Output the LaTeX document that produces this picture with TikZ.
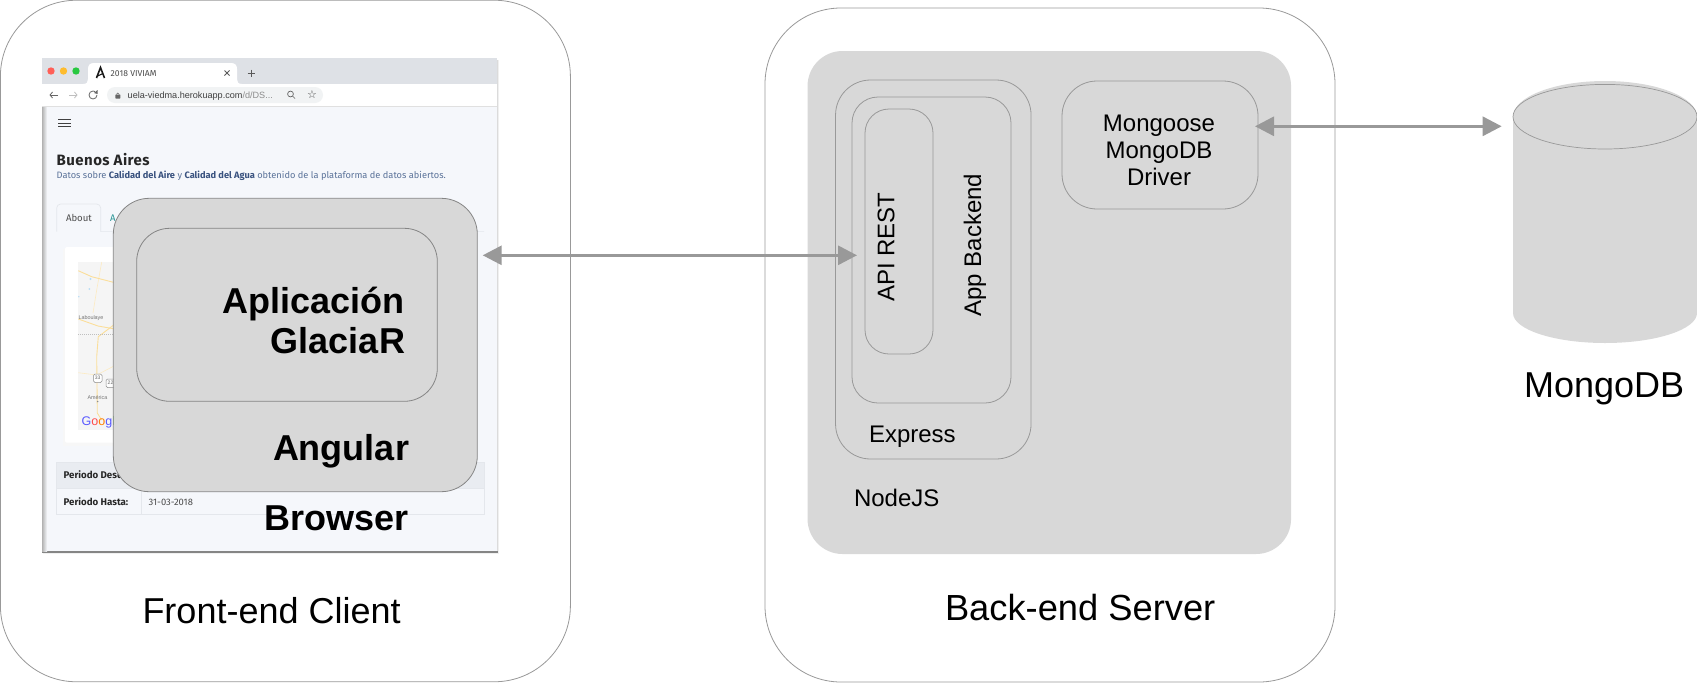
\documentclass[tikz,border=0pt]{standalone}
\usepackage{fontspec}
\setmainfont{Liberation Sans}
\newfontfamily\shotfont{Fira Sans}
\usetikzlibrary{arrows.meta,calc}
\definecolor{fillgrey}{HTML}{D8D8D8}
\definecolor{edgegrey}{HTML}{999999}
\definecolor{edgedark}{HTML}{858585}
\definecolor{arrowgrey}{HTML}{999999}
\definecolor{pagebg}{HTML}{F5F7FB}
\definecolor{barbg}{HTML}{DEE1E6}
\definecolor{pillbg}{HTML}{F1F3F4}
\definecolor{inkblue}{HTML}{5A7299}
\definecolor{inkdark}{HTML}{39527F}
\definecolor{roadyellow}{HTML}{FBDE9A}
\definecolor{tablehead}{HTML}{E9ECF1}
\definecolor{tableline}{HTML}{E4E7EC}
\definecolor{dotred}{HTML}{FF5F57}
\definecolor{dotyellow}{HTML}{FEBC2E}
\definecolor{dotgreen}{HTML}{28C840}
\definecolor{mapbg}{HTML}{F5F5F5}
\definecolor{lake}{HTML}{B8DDF5}
\newcommand{\fsz}[1]{\fontsize{#1}{#1}\selectfont}
\tikzset{
  x=1pt,y=-1pt,
  panel/.style={draw=edgegrey,line width=.8pt,fill=white,rounded corners=76pt,inner sep=0pt,outer sep=0pt,rectangle},
  greybox/.style={draw=edgegrey,line width=.8pt,fill=fillgrey,inner sep=0pt,outer sep=0pt,rectangle},
  flat/.style={fill=fillgrey,inner sep=0pt,outer sep=0pt,rectangle},
  big/.style={inner sep=0pt,outer sep=0pt,font=\fsz{36}},
  bigb/.style={inner sep=0pt,outer sep=0pt,font=\fsz{36}\bfseries},
  mid/.style={inner sep=0pt,outer sep=0pt,font=\fsz{24}},
  shot/.style={inner sep=0pt,outer sep=0pt,anchor=base west},
  link/.style={draw=arrowgrey,line width=3pt,{Triangle[length=19pt,width=19pt]}-{Triangle[length=19pt,width=19pt]}},
}
\begin{document}
\begin{tikzpicture}
\useasboundingbox (0,0) rectangle (1697,683);
% panels
\node[panel,minimum width=570pt,minimum height=681.5pt] (client) at (285.4,341) {};
\node[panel,minimum width=570pt,minimum height=674pt] (server) at (1050,345) {};
% browser window
\fill[black!6] (43,60) rectangle (499,554);
\fill[black!14] (43,60) rectangle (498,553);
\fill[black!48] (42,551) rectangle (497.5,552.6);
\fill[pagebg] (42,58) rectangle (497,551);
\shade[left color=black!30,right color=pagebg] (42,106) rectangle (47,551);
\fill[barbg] (42,58) rectangle (497,84);
\fill[white] (42,84) rectangle (497,106);
\draw[black!12,line width=.6pt] (42,106) -- (497,106);
\fill[white] (83,84) .. controls (87,84) and (88,82) .. (88,79) -- (88,69) .. controls (88,65) and (90,63) .. (94,63) -- (231,63) .. controls (235,63) and (237,65) .. (237,69) -- (237,79) .. controls (237,82) and (238,84) .. (242,84) -- cycle;
\fill[dotred] (51,71) circle (3.7);
\fill[dotyellow] (63.5,71) circle (3.7);
\fill[dotgreen] (76,71) circle (3.7);
\draw[black!90,line width=1.6pt,line join=miter] (96.5,78) -- (100.5,67.5) -- (104.5,78);
\draw[black!90,line width=1.1pt] (96.5,76.5) -- (103,73.5);
\node[shot,font=\shotfont\fsz{8.6},text=black!70] (tabtitle) at (110.7,76.3) {2018 VIVIAM};
\draw[black!65,line width=.8pt] (224.5,70.5) -- (229.5,75.5) (229.5,70.5) -- (224.5,75.5);
\draw[black!65,line width=.8pt] (247.5,73) -- (254.5,73) (251,69.5) -- (251,76.5);
\draw[black!60,line width=.8pt,-{Straight Barb[length=2.5pt,width=6pt]}] (58,95) -- (49.5,95);
\draw[black!25,line width=.8pt,-{Straight Barb[length=2.5pt,width=6pt]}] (69,95) -- (77.5,95);
\draw[black!60,line width=.8pt] (97,95) arc (0:300:4);
\fill[black!60] (97.5,90) -- (97.5,94) -- (94,93) -- cycle;
\fill[pillbg,rounded corners=8pt] (107,87) rectangle (323,103);
\fill[black!60,rounded corners=.5pt] (115.3,94.5) rectangle (120.3,98.5);
\draw[black!60,line width=.6pt] (116.3,94.5) arc (180:360:1.5);
\node[shot,font=\fsz{9.1},text=black!75] (urltext) at (127.7,98.5) {uela-viedma.herokuapp.com\textcolor{black!45}{/d/DS...}};
\draw[black!60,line width=.7pt] (290.5,94) circle (2.9) (292.6,96.1) -- (295,98.5);
\node[inner sep=0pt,font=\fsz{11},text=black!70] (star) at (312,95) {\setmainfont{DejaVu Sans}☆};
% page
\draw[black!75,line width=.9pt] (58,119.3) -- (71,119.3) (58,123) -- (71,123) (58,126.8) -- (71,126.8);
\node[shot,font=\shotfont\fsz{15}\bfseries\addfontfeature{LetterSpace=3},text=black!85] (city) at (56.7,165) {Buenos Aires};
\node[shot,font=\shotfont\fsz{9.25},text=inkblue] (sub) at (56.7,178.3) {Datos sobre \textcolor{inkdark}{\bfseries Calidad del Aire} y \textcolor{inkdark}{\bfseries Calidad del Agua} obtenido de la plataforma de datos abiertos.};
\draw[tableline,line width=.7pt] (56.7,231.6) -- (56.7,208) arc (180:270:4) -- (96.7,204) arc (270:360:4) -- (100.7,231.6) -- (484,231.6);
\node[shot,font=\shotfont\fsz{9.6},text=black!70] (about) at (66,221) {About};
\node[shot,font=\shotfont\fsz{9.6},text=teal!85] (atab) at (110,221) {A};
% map card
\fill[black!3] (63,249) rectangle (200,446);
\fill[white,rounded corners=2pt] (65,247) rectangle (200,442.7);
\fill[mapbg] (78.3,262) rectangle (200,430);
\draw[roadyellow!60,line width=.6pt] (101.7,262) -- (96.7,290) -- (93,313);
\draw[roadyellow!60,line width=.6pt] (78.3,372.7) -- (96.7,375) -- (114,366);
\draw[roadyellow,line width=.9pt] (78.3,270.7) -- (91.7,276.7) -- (115,282.7);
\draw[roadyellow,line width=.9pt] (78.3,319) -- (98,326) -- (115,329);
\draw[roadyellow,line width=.9pt] (115,324) -- (98.3,336.7) -- (96.7,356.7) -- (97.3,413) -- (101.7,420);
\draw[black!25,line width=.4pt,dash pattern=on 1pt off 1pt] (78.3,334.3) -- (115,334.3);
\fill[lake] (90.5,279) circle (1.2) (89.3,289) circle (1) (78.8,296.7) circle (.8);
\node[shot,font=\fsz{5.4},text=black!55] (lab) at (78.5,319) {Laboulaye};
\draw[black!45,fill=white,rounded corners=1.5pt,line width=.5pt] (93.5,374) rectangle (102,382.5);
\node[inner sep=0pt,font=\fsz{5},text=black!60] (r33) at (97.7,378.2) {33};
\draw[black!45,fill=white,rounded corners=1.5pt,line width=.5pt] (106,379) rectangle (115,387.5);
\node[inner sep=0pt,font=\fsz{5},text=black!60] (r22) at (110.5,383.2) {22};
\node[shot,font=\fsz{5.4},text=black!55] (ameri) at (87.5,399) {América};
\fill[black!45] (97.7,401.5) circle (.8);
\node[shot,font=\fsz{12.5}] (goog) at (81.7,425.5) {\textcolor{blue!65}{G}\textcolor{red!70}{o}\textcolor{orange}{o}\textcolor{blue!65}{g}\textcolor{green!60!black}{l}\textcolor{red!70}{e}};
% table
\fill[tablehead] (56.7,462) rectangle (484,488);
\draw[tableline,line width=.7pt] (56.7,462) rectangle (484,514.7) (56.7,488) -- (484,488) (141.7,488) -- (141.7,514.7);
\node[shot,font=\shotfont\fsz{9.7}\bfseries,text=black!85] (desde) at (63.7,478) {Periodo Desde:};
\node[shot,font=\shotfont\fsz{9.7}\bfseries,text=black!85] (hasta) at (63.7,505) {Periodo Hasta:};
\node[shot,font=\shotfont\fsz{9.4},text=black!70] (fecha) at (148.7,505) {31-03-2018};
% client boxes
\node[greybox,draw=edgedark,rounded corners=36pt,minimum width=364pt,minimum height=293.4pt] (angularbox) at (295.3,345) {};
\node[greybox,draw=edgedark,rounded corners=33pt,minimum width=300.6pt,minimum height=173pt] (glaciar) at (287,314.8) {};
\node[bigb,anchor=base east] (t1) at (404.5,313) {Aplicación};
\node[bigb,anchor=base east] (t2) at (405,353.3) {GlaciaR};
\node[bigb,anchor=base east] (t3) at (409,460) {Angular};
\node[bigb,anchor=base east] (t4) at (409,530) {Browser};
\node[big,anchor=base west] (t5) at (142.5,623) {Front-end Client};
% server boxes
\node[flat,rounded corners=35pt,minimum width=483.5pt,minimum height=503pt] (nodejs) at (1049.3,302.5) {};
\node[greybox,rounded corners=35pt,minimum width=195.5pt,minimum height=379pt] (express) at (933.3,269.5) {};
\node[greybox,rounded corners=26pt,minimum width=159pt,minimum height=306pt] (backend) at (931.5,250) {};
\node[greybox,rounded corners=24pt,minimum width=68pt,minimum height=245pt] (api) at (899,231.5) {};
\node[greybox,rounded corners=35pt,minimum width=196pt,minimum height=128pt] (mongoose) at (1160,145) {};
\node[mid,rotate=90] (t6) at (886,247) {API REST};
\node[mid,rotate=90] (t7) at (975,245) {App Backend};
\node[mid,anchor=base west] (t8) at (869,442) {Express};
\node[mid,anchor=base west] (t9) at (854,506.5) {NodeJS};
\node[mid,anchor=base] (t10) at (1159,131) {Mongoose};
\node[mid,anchor=base] (t11) at (1159,158) {MongoDB};
\node[mid,anchor=base] (t12) at (1159,185) {Driver};
\node[inner sep=0pt,outer sep=0pt,font=\fsz{36.3},anchor=base west] (t13) at (945,620) {Back-end Server};
% cylinder
\fill[fillgrey] (1513,116.7) -- (1513,313) arc[start angle=180,end angle=0,x radius=92,y radius=30] -- (1697,116.7) arc[start angle=0,end angle=-180,x radius=92,y radius=35.7] -- cycle;
\draw[edgegrey,line width=.7pt] (1605,116.7) ellipse [x radius=92,y radius=32.3];
\node[big,anchor=base west] (t14) at (1524,397) {MongoDB};
\coordinate (mongotop) at (1513,126.3);
% connectors
\coordinate (upper) at (0,126.3);
\coordinate (lower) at (0,255.3);
\draw[link,shorten <=5.4pt,shorten >=8pt] (angularbox.east |- lower) -- (api.west |- lower);
\draw[link,shorten <=-3pt,shorten >=11.3pt] (mongoose.east |- upper) -- (mongotop);
\end{tikzpicture}
\end{document}
